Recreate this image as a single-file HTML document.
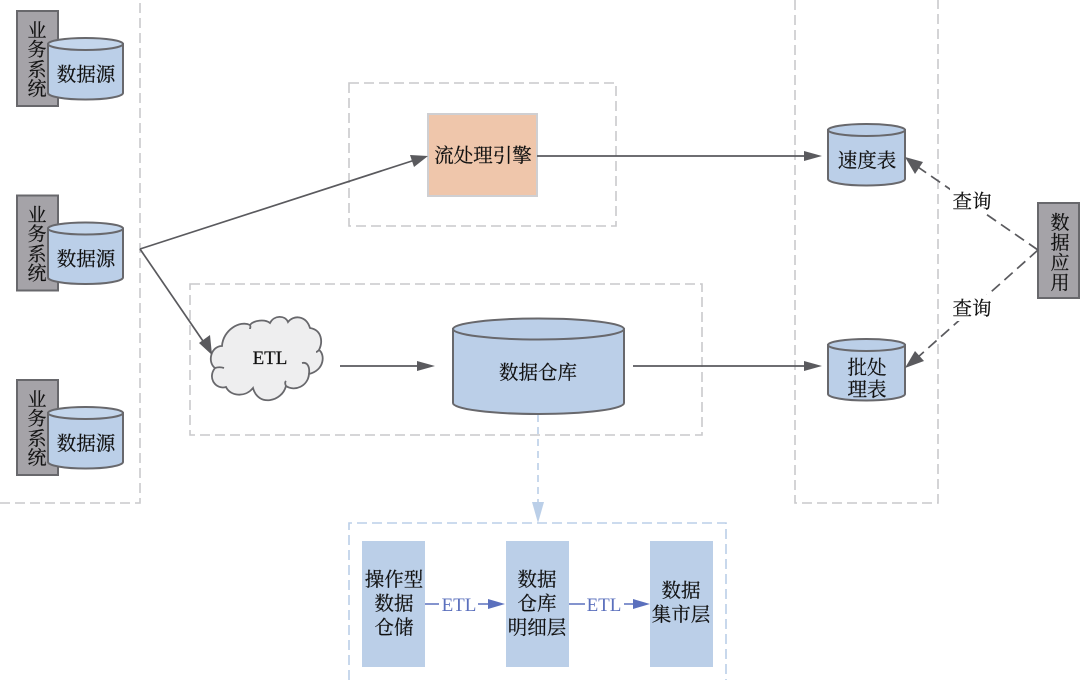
<!DOCTYPE html>
<html><head><meta charset="utf-8"><style>
html,body{margin:0;padding:0;background:#fff;width:1080px;height:680px;overflow:hidden}
svg{display:block}
text{font-family:"Liberation Serif","Noto Serif CJK SC",serif;font-size:19.500px;fill:#111;stroke:#111;stroke-width:.2;text-anchor:middle}
.v{font-size:19px}
.d{fill:none;stroke:#c9c9cc;stroke-width:1.6;stroke-dasharray:10 5}
.c{fill:#bbcfe8;stroke:#68686c;stroke-width:2}
.g{fill:#a5a3a8;stroke:#68686c;stroke-width:2}
.l{stroke:#5a5a5e;stroke-width:1.700;fill:none}
.a{fill:#5a5a5e}
.b{fill:#bbcfe8}
.e{fill:#5b70bd;stroke:#5b70bd;font-size:19px;stroke-width:0}
</style></head><body>
<svg width="1080" height="680" viewBox="0 0 1080 680" xmlns="http://www.w3.org/2000/svg">
<defs>
<g id="src">
<rect class="g" x="17" y="11" width="41" height="95"/>
<text class="v" x="37" y="37">业</text><text class="v" x="37" y="56">务</text><text class="v" x="37" y="76">系</text><text class="v" x="37" y="95">统</text>
<path class="c" d="M48 44V93A37.500 6.500 0 0 0 123 93V44Z"/>
<ellipse class="c" style="fill:#c4d6ec" cx="85.500" cy="44" rx="37.500" ry="6"/>
<text x="86" y="81">数据源</text>
</g>
</defs>

<path class="d" d="M0 503H140V0"/>
<path class="d" d="M795 0V503H938V0"/>
<rect class="d" x="349" y="83" width="267" height="143"/>
<rect class="d" x="190" y="284" width="512" height="151"/>
<path class="d" style="stroke:#bbcfe8" d="M349 680V523H726V680"/>

<use href="#src"/>
<use href="#src" y="184.500"/>
<use href="#src" y="369"/>

<rect x="428" y="114" width="109" height="82" fill="#efc6ab" stroke="#cfcfd2" stroke-width="2"/>
<text x="483" y="162">流处理引擎</text>

<path d="M215 368C207 362 211 346 222 346C223 330 240 320 250 325C254 320 265 319 270 323C274 315 285 315 288 322C293 315 306 315 310 328C322 330 323 342 319 350C325 354 325 370 309 374C308 386 295 392 286 386C282 402 258 407 253 388C245 398 230 396 226 387C216 390 207 378 215 368Z" fill="#eeeeef" stroke="#68686c" stroke-width="1.800"/>
<path d="M215 368C218 367 221 367 224 368M250 325C251 327 250 328 250 329M286 386C285 384 285 382 286 381M309 374C310 366 307 362 302 363M319 350C318 351 317 352 316 352" fill="none" stroke="#68686c" stroke-width="1.800"/>
<text x="270" y="364" style="font-size:19px">ETL</text>

<path class="c" d="M453 329V403A85.500 11 0 0 0 624 403V329Z"/>
<ellipse class="c" cx="538.500" cy="329" rx="85.500" ry="10.500"/>
<text x="538" y="379">数据仓库</text>

<path class="c" d="M828 130V179A38.500 6.500 0 0 0 905 179V130Z"/>
<ellipse class="c" cx="866.500" cy="130" rx="38.500" ry="6"/>
<text x="867" y="167">速度表</text>

<path class="c" d="M828 345V394A38.500 6.500 0 0 0 905 394V345Z"/>
<ellipse class="c" cx="866.500" cy="345" rx="38.500" ry="6"/>
<text x="867" y="374">批处</text><text x="867" y="396">理表</text>

<rect class="g" x="1038" y="203" width="41" height="95"/>
<text class="v" x="1060" y="229">数</text><text class="v" x="1060" y="249">据</text><text class="v" x="1060" y="269">应</text><text class="v" x="1060" y="289">用</text>

<path class="l" d="M140 249L415 160"/>
<path class="a" d="M428 156L410 155L414 167Z"/>
<path class="l" d="M140 249L205 344"/>
<path class="a" d="M212 355L199 343L210 335Z"/>
<path class="l" d="M537 156H808"/><path class="a" d="M822 156L804 151V161Z"/>
<path class="l" d="M340 366H420"/><path class="a" d="M435 366L417 361V371Z"/>
<path class="l" d="M633 366H808"/><path class="a" d="M822 366L804 361V371Z"/>

<path class="l" stroke-dasharray="11 6" d="M1038 250L915 165"/>
<path class="a" d="M905 157L923 162L915 174Z"/>
<path class="l" stroke-dasharray="11 6" d="M1038 250L917 358"/>
<path class="a" d="M905 368L915 351L924 361Z"/>
<rect x="950" y="188" width="44" height="26" fill="#fff"/>
<rect x="950" y="295" width="44" height="26" fill="#fff"/>
<text x="972" y="208">查询</text>
<text x="972" y="315">查询</text>

<path d="M538 415V506" stroke="#bbcfe8" stroke-width="1.600" stroke-dasharray="7 5" fill="none"/>
<path class="b" d="M538 523L532 502H544Z"/>

<rect class="b" x="362" y="541" width="63" height="126"/>
<rect class="b" x="506" y="541" width="63" height="126"/>
<rect class="b" x="650" y="541" width="63" height="126"/>
<text x="394" y="586">操作型</text><text x="394" y="610">数据</text><text x="394" y="634">仓储</text>
<text x="537" y="586">数据</text><text x="537" y="610">仓库</text><text x="537" y="634">明细层</text>
<text x="681" y="597">数据</text><text x="681" y="621">集市层</text>

<g stroke="#5b70bd" stroke-width="1.600" fill="none">
<path d="M425 604H439M478 604H492M569 604H585M624 604H637"/>
</g>
<path fill="#5b70bd" d="M505 604L488 599V609Z"/>
<path fill="#5b70bd" d="M650 604L633 599V609Z"/>
<text class="e" x="459" y="611">ETL</text>
<text class="e" x="604" y="611">ETL</text>
</svg>
</body></html>
